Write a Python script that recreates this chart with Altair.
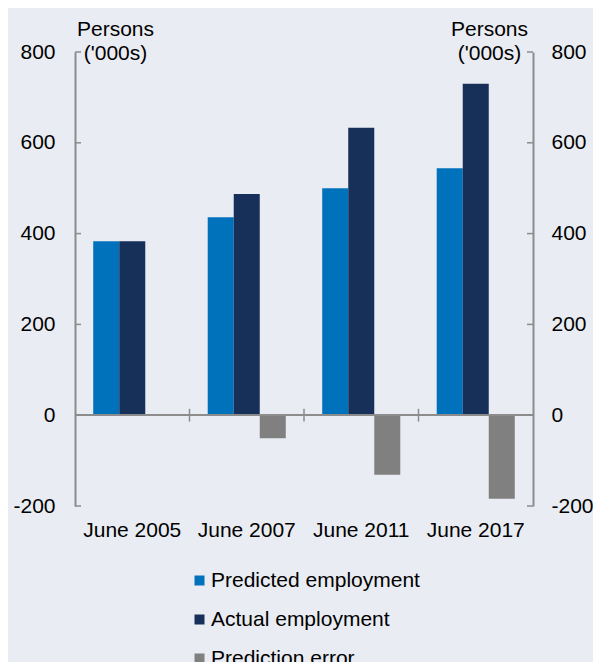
import altair as alt
import pandas as pd

categories = ["June 2005", "June 2007", "June 2011", "June 2017"]
series = ["Predicted employment", "Actual employment", "Prediction error"]
predicted = [383, 436, 500, 544]
actual = [383, 487, 633, 730]
error = [0, -51, -131, -184]
colors = ["#0072bc", "#17305a", "#808080"]
y_ticks = [-200, 0, 200, 400, 600, 800]
boundary_cats = ["June 2007", "June 2011", "June 2017"]
y_title = ["Persons", "('000s)"]

rows = []
for i, c in enumerate(categories):
    for s, vals in zip(series, [predicted, actual, error]):
        rows.append({"cat": c, "series": s, "value": vals[i]})
df = pd.DataFrame(rows)
df_ticks = pd.DataFrame({"v": y_ticks})
df_bound = pd.DataFrame({"cat": boundary_cats})

W, H = 458, 454
FONT = "Liberation Sans"
AX = "#8c8c8c"
FS = 21

yscale = alt.Scale(domain=[-200, 800], nice=False, zero=False)
xscale = alt.Scale(domain=categories, paddingInner=0, paddingOuter=0)
xaxis = alt.Axis(title=None, orient="bottom", domain=False, ticks=False,
                 labelAngle=0, labelFontSize=FS, labelPadding=13,
                 labelColor="black", labelFont=FONT, labelLimit=300)


def yaxis(orient, title_x, pad):
    return alt.Axis(
        orient=orient, values=y_ticks, tickSize=0, domain=True, domainColor=AX,
        domainWidth=2, grid=False, labelPadding=pad, labelFontSize=FS,
        labelFont=FONT, labelColor="black", labelExpr="datum.value + ''",
        title=y_title, titleAngle=0,
        titleAlign="center", titleX=title_x, titleY=-17, titleBaseline="alphabetic",
        titleFontSize=FS, titleFont=FONT, titleFontWeight="normal",
        titleLineHeight=24, titleColor="black",
    )


bars = alt.Chart(df).mark_bar().encode(
    x=alt.X("cat:N", scale=xscale, sort=categories, axis=xaxis),
    xOffset=alt.XOffset("series:N", sort=series,
                        scale=alt.Scale(domain=series, paddingInner=0, paddingOuter=0.7)),
    y=alt.Y("value:Q", scale=yscale, axis=None),
    color=alt.Color("series:N", scale=alt.Scale(domain=series, range=colors),
                    legend=alt.Legend(orient="none", legendX=114, legendY=518,
                                      direction="vertical", title=None,
                                      symbolType="square", symbolSize=100,
                                      symbolStrokeWidth=0, labelFontSize=FS,
                                      labelFont=FONT, labelColor="black",
                                      labelOffset=1, rowPadding=17, padding=0,
                                      labelLimit=400)),
)

zero = alt.Chart(df_ticks).mark_rule(color=AX, strokeWidth=1.5).encode(
    y=alt.YDatum(0, scale=yscale, axis=None)
)

bounds = alt.Chart(df_bound).mark_rule(color=AX, strokeWidth=1.5).encode(
    x=alt.X("cat:N", scale=xscale, sort=categories, bandPosition=0, axis=xaxis),
    y=alt.YDatum(14, scale=yscale, axis=None),
    y2=alt.Y2Datum(-14),
)

left_ticks = alt.Chart(df_ticks).mark_rule(color=AX, strokeWidth=1.5).encode(
    y=alt.Y("v:Q", scale=yscale, axis=yaxis("left", 40, 20)),
    x=alt.value(0),
    x2=alt.value(6),
)

right_ticks = alt.Chart(df_ticks).mark_rule(color=AX, strokeWidth=1.5).encode(
    y=alt.Y("v:Q", scale=yscale, axis=yaxis("right", -44, 18)),
    x=alt.value(W),
    x2=alt.value(W - 6),
)

chart = alt.layer(bars, zero, bounds, left_ticks, right_ticks).resolve_axis(
    y="independent"
).resolve_scale(y="shared").properties(
    width=W, height=H,
    padding={"left": 67, "top": 44, "right": 60, "bottom": 156},
    autosize=alt.AutoSizeParams(type="none"),
    background="#e9ecf2",
).configure_view(stroke=None)

chart.save("out.html", embed_options={"renderer": "svg", "actions": False})
